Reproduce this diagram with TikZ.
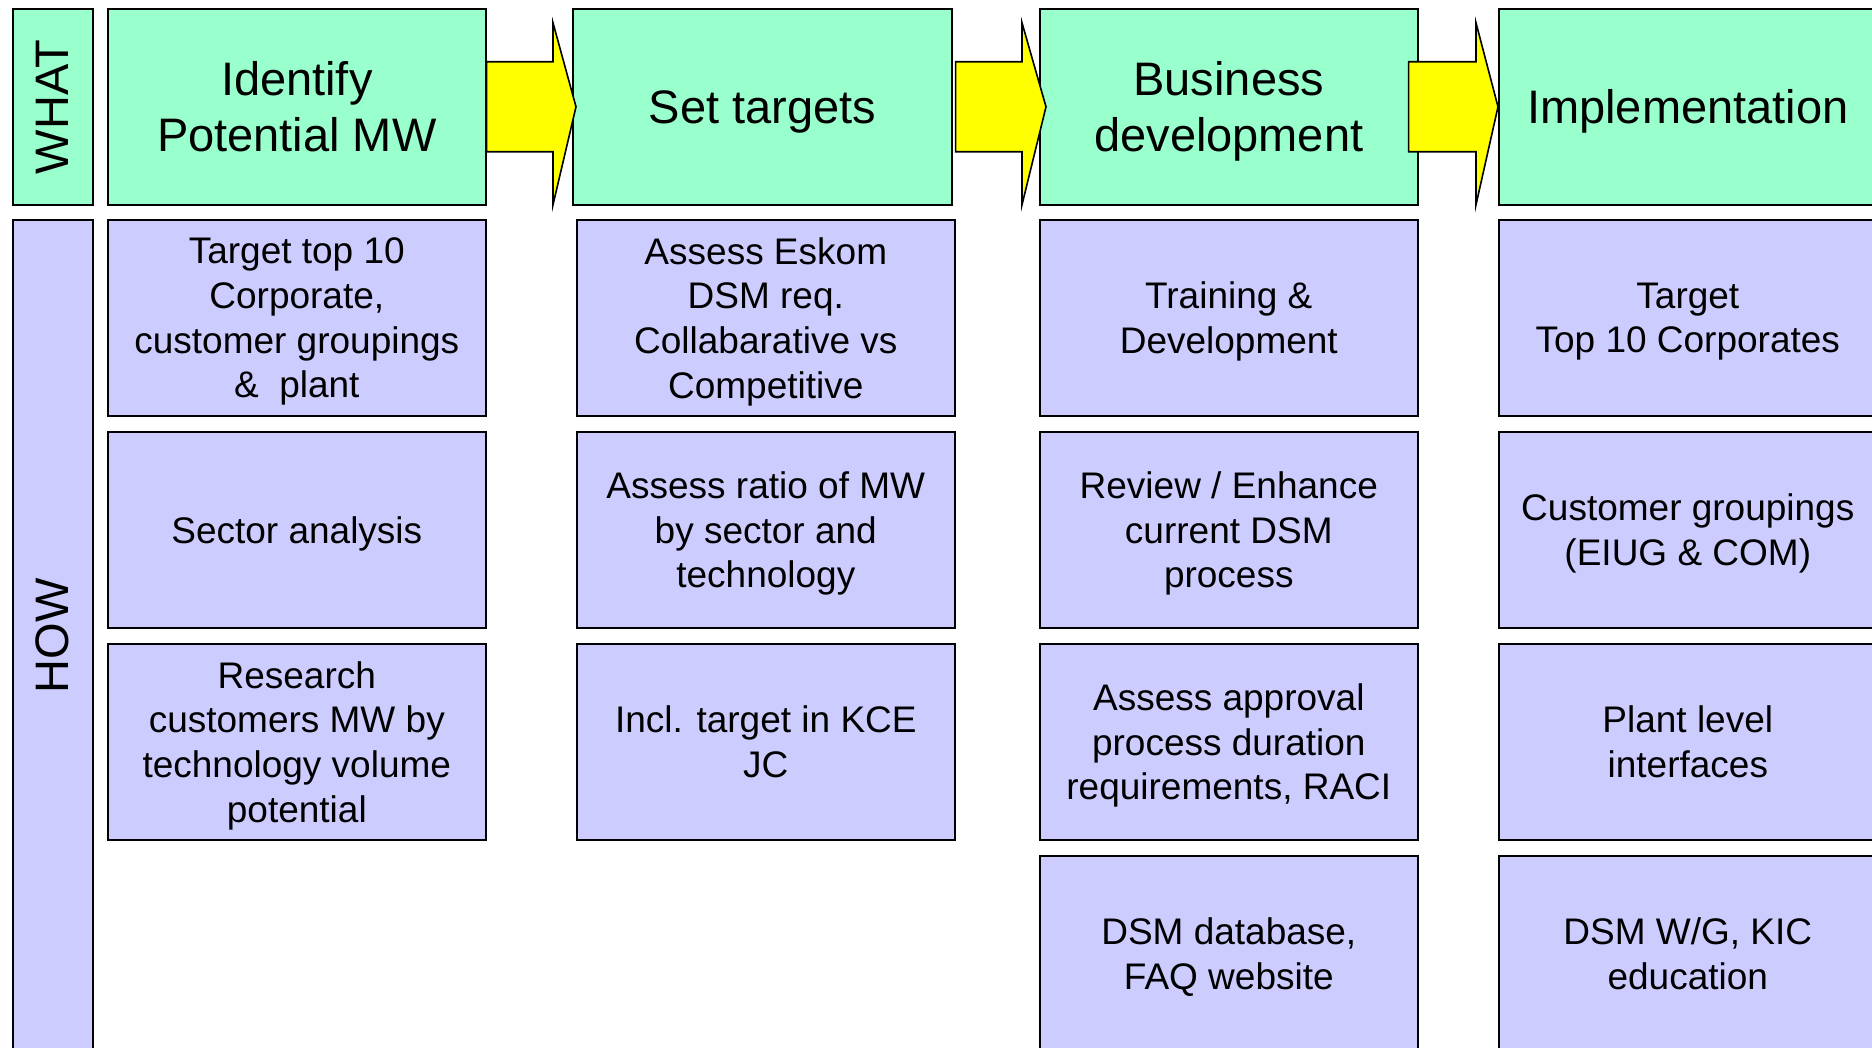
\documentclass[tikz,border=0pt]{standalone}
\usepackage{fontspec}
\setmainfont{Liberation Sans}
\usetikzlibrary{calc}
\definecolor{hdrgreen}{HTML}{99FFCC}
\definecolor{bodyblue}{HTML}{CCCCFF}
\definecolor{arrowyellow}{HTML}{FFFF00}
\newcommand\hfnt{\fontsize{47}{56}\selectfont}
\newcommand\bfnt{\fontsize{37}{44.6}\selectfont}
\tikzset{
  cell/.style={draw=black, line width=1.6pt, inner sep=0pt, align=center, text depth=0pt,
    minimum width=378pt, minimum height=196pt, anchor=north west},
  hdr/.style={cell, fill=hdrgreen, font=\hfnt},
  bodybox/.style={cell, fill=bodyblue, font=\bfnt},
  sidebar/.style={draw=black, line width=1.6pt, inner sep=0pt, minimum width=80pt, anchor=north west, font=\hfnt},
  blockarrow/.style={draw=black, line width=1.6pt, fill=arrowyellow, line join=miter}
}
\begin{document}
\begin{tikzpicture}[x=1pt,y=-1pt]
\clip (0,0) rectangle (1872,1048);
\fill[white] (0,0) rectangle (1872,1048);
% side labels
\node[sidebar, fill=hdrgreen, minimum height=196pt] (what) at (12,8) {};
\node[rotate=90, font=\hfnt] (whattxt) at (what.center) {WHAT};
\node[sidebar, fill=bodyblue, minimum height=832pt] (how) at (12,219) {};
\node[rotate=90, font=\hfnt] (howtxt) at (how.center) {HOW};
% headers
\node[hdr] (h1) at (107,8) {Identify\\Potential MW};
\node[hdr, minimum width=379pt] (h2) at (572,8) {Set targets};
\node[hdr] (h3) at (1039,8) {Business\\development};
\node[hdr] (h4) at (1498,8) {Implementation};
% column 1
\node[bodybox] (a1) at (107,219) {Target top 10\\Corporate,\\customer groupings\\\&\ \ plant};
\node[bodybox] (a2) at (107,431) {Sector analysis};
\node[bodybox] (a3) at (107,643) {Research\\customers MW by\\technology volume\\potential};
% column 2
\node[bodybox] (b1) at (576,219) {Assess Eskom\\DSM req.\\Collabarative vs\\Competitive};
\node[bodybox] (b2) at (576,431) {Assess ratio of MW\\by sector and\\technology};
\node[bodybox] (b3) at (576,643) {Incl. target in KCE\\JC};
% column 3
\node[bodybox] (c1) at (1039,219) {Training \&\\Development};
\node[bodybox] (c2) at (1039,431) {Review / Enhance\\current DSM\\process};
\node[bodybox] (c3) at (1039,643) {Assess approval\\process duration\\requirements, RACI};
\node[bodybox] (c4) at (1039,855) {DSM database,\\FAQ website};
% column 4
\node[bodybox] (d1) at (1498,219) {Target\\Top 10 Corporates};
\node[bodybox] (d2) at (1498,431) {Customer groupings\\(EIUG \& COM)};
\node[bodybox] (d3) at (1498,643) {Plant level\\interfaces};
\node[bodybox] (d4) at (1498,855) {DSM W/G, KIC\\education};
% block arrows between headers
\draw[blockarrow] ($(h1.east)+(0,-45)$) -- ($(h2.west)+(-19,-45)$) -- ($(h2.west)+(-19,-84)$)
  -- ($(h2.west)+(4,0)$) -- ($(h2.west)+(-19,98)$) -- ($(h2.west)+(-19,45)$) -- ($(h1.east)+(0,45)$) -- cycle;
\draw[blockarrow] ($(h2.east)+(3,-45)$) -- ($(h3.west)+(-17,-45)$) -- ($(h3.west)+(-17,-84)$)
  -- ($(h3.west)+(7,0)$) -- ($(h3.west)+(-17,98)$) -- ($(h3.west)+(-17,45)$) -- ($(h2.east)+(3,45)$) -- cycle;
\draw[blockarrow] ($(h3.east)+(-10,-45)$) -- ($(h4.west)+(-22,-45)$) -- ($(h4.west)+(-22,-84)$)
  -- ($(h4.west)+(0,0)$) -- ($(h4.west)+(-22,98)$) -- ($(h4.west)+(-22,45)$) -- ($(h3.east)+(-10,45)$) -- cycle;
\end{tikzpicture}
\end{document}
